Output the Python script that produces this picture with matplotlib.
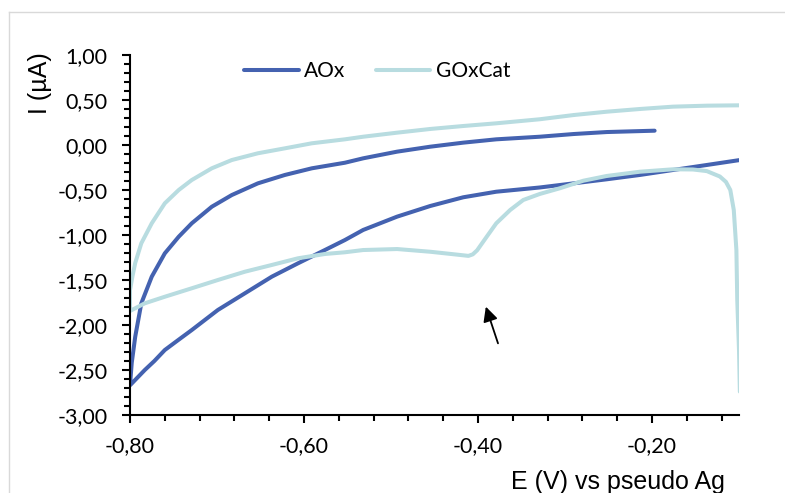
#!/usr/bin/env python3
"""Cyclic voltammograms AOx vs GOxCat, Excel-style chart."""
import numpy as np
import matplotlib
matplotlib.use("Agg")
import matplotlib.pyplot as plt
from matplotlib.lines import Line2D
from matplotlib.ticker import MultipleLocator, FuncFormatter

# AOx: upper (return) branch from right to left, then lower branch to the right
aox_e = [-0.197, -0.252, -0.290, -0.329, -0.379, -0.417, -0.455, -0.493, -0.532,
         -0.553, -0.591, -0.622, -0.653, -0.683, -0.706, -0.729, -0.744, -0.760,
         -0.775, -0.787, -0.794, -0.798, -0.800,
         -0.796, -0.790, -0.783, -0.772, -0.760, -0.745, -0.729, -0.699, -0.668,
         -0.637, -0.607, -0.576, -0.553, -0.532, -0.493, -0.455, -0.417, -0.379,
         -0.329, -0.290, -0.252, -0.214, -0.176, -0.137, -0.099]
aox_i = [0.159, 0.144, 0.122, 0.092, 0.063, 0.026, -0.019, -0.074, -0.148,
         -0.197, -0.259, -0.333, -0.426, -0.556, -0.686, -0.870, -1.019, -1.204,
         -1.463, -1.759, -2.130, -2.420, -2.670,
         -2.630, -2.570, -2.500, -2.400, -2.278, -2.170, -2.056, -1.833, -1.648,
         -1.463, -1.315, -1.167, -1.056, -0.944, -0.796, -0.678, -0.581, -0.519,
         -0.472, -0.426, -0.381, -0.333, -0.278, -0.222, -0.167]

# GOxCat: from the drop at the right end, lower branch leftwards, then upper branch
gox_e = [-0.099, -0.100, -0.102, -0.103, -0.106, -0.110, -0.115, -0.122, -0.137,
         -0.153, -0.176, -0.214, -0.252, -0.279, -0.306, -0.329, -0.348, -0.363,
         -0.379, -0.390, -0.401, -0.406, -0.411, -0.428, -0.455, -0.493, -0.532,
         -0.553, -0.576, -0.607, -0.637, -0.668, -0.699, -0.729, -0.760, -0.783,
         -0.800,
         -0.800, -0.797, -0.794, -0.787, -0.775, -0.760, -0.744, -0.729, -0.706,
         -0.683, -0.653, -0.622, -0.591, -0.553, -0.532, -0.493, -0.455, -0.417,
         -0.379, -0.329, -0.290, -0.252, -0.214, -0.176, -0.137, -0.099]
gox_i = [-2.741, -2.278, -1.722, -1.167, -0.722, -0.500, -0.410, -0.350, -0.290,
         -0.272, -0.270, -0.297, -0.344, -0.397, -0.481, -0.544, -0.611, -0.722,
         -0.870, -1.019, -1.170, -1.215, -1.232, -1.214, -1.186, -1.156, -1.167,
         -1.192, -1.211, -1.259, -1.333, -1.408, -1.500, -1.592, -1.686, -1.759,
         -1.844,
         -1.611, -1.450, -1.311, -1.092, -0.870, -0.648, -0.500, -0.389, -0.259,
         -0.167, -0.092, -0.037, 0.019, 0.063, 0.092, 0.137, 0.178, 0.211,
         0.241, 0.286, 0.333, 0.370, 0.400, 0.426, 0.437, 0.441]

arrow_tip = (-0.392, -1.767)
arrow_tail = (-0.376, -2.233)

DARK = "#4462B0"
LIGHT = "#B8DCE0"
TICK_FONT = "Lato"
LABEL_FONT = "Liberation Sans"


def comma(v, _pos):
    return f"{v:.2f}".replace(".", ",")


fig = plt.figure(figsize=(7.85, 4.93), dpi=100)
ax = fig.add_axes([130 / 785, 1 - 415 / 493, 609 / 785, 360 / 493])

ax.plot(aox_e, aox_i, color=DARK, lw=2.9, label="AOx",
        solid_capstyle="round", solid_joinstyle="round")
ax.plot(gox_e, gox_i, color=LIGHT, lw=2.9, label="GOxCat",
        solid_capstyle="round", solid_joinstyle="round")

ax.annotate("", xy=arrow_tip, xytext=arrow_tail,
            arrowprops=dict(arrowstyle="-|>", color="black", lw=1.3, mutation_scale=22))

ax.set_xlim(-0.80, -0.10)
ax.set_ylim(-3.00, 1.00)
ax.xaxis.set_major_locator(MultipleLocator(0.2))
ax.xaxis.set_minor_locator(MultipleLocator(0.04))
ax.yaxis.set_major_locator(MultipleLocator(0.5))
ax.yaxis.set_minor_locator(MultipleLocator(0.1))
ax.xaxis.set_major_formatter(FuncFormatter(comma))
ax.yaxis.set_major_formatter(FuncFormatter(comma))

for side in ("top", "right"):
    ax.spines[side].set_visible(False)
for side in ("left", "bottom"):
    ax.spines[side].set_linewidth(1.5)
    ax.spines[side].set_color("black")

ax.tick_params(which="major", length=6, width=1.5, direction="out")
ax.tick_params(which="minor", length=4.5, width=1.5, direction="out")
ax.tick_params(axis="x", which="major", pad=9)
ax.tick_params(axis="y", which="major", pad=10)
for lab in ax.get_xticklabels() + ax.get_yticklabels():
    lab.set_fontfamily(TICK_FONT)
    lab.set_fontsize(15.5)

leg = ax.legend(loc="center left", bbox_to_anchor=(0.157, 0.956), ncol=2,
                frameon=False, handlelength=2.6, handletextpad=0.25,
                columnspacing=1.5, prop={"family": TICK_FONT, "size": 15})

fig.text(40 / 785, 1 - 83 / 493, "I (µA)", rotation=90, ha="center", va="center",
         fontfamily=LABEL_FONT, fontsize=18)
fig.text(618 / 785, 1 - 482 / 493, "E (V) vs pseudo Ag", ha="center", va="center",
         fontfamily=LABEL_FONT, fontsize=18)

# light chart-area border seen at the top and left
fig.add_artist(Line2D([9 / 785, 9 / 785], [0, 1 - 12 / 493], transform=fig.transFigure,
                      color="#d9d9d9", lw=1))
fig.add_artist(Line2D([9 / 785, 1], [1 - 12 / 493, 1 - 12 / 493], transform=fig.transFigure,
                      color="#d9d9d9", lw=1))

fig.savefig("out.png", dpi=100)
